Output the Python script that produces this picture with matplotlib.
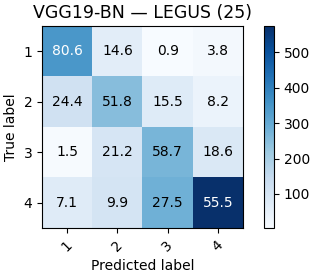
import numpy as np
import matplotlib
matplotlib.use("Agg")
import matplotlib.pyplot as plt

# clases y valores
clases = ['1', '2', '3', '4']
# porcentajes por fila (lo que se escribe en cada celda)
porcentajes = np.array([
    [80.6, 14.6, 0.9, 3.8],
    [24.4, 51.8, 15.5, 8.2],
    [1.5, 21.2, 58.7, 18.6],
    [7.1, 9.9, 27.5, 55.5],
])
# conteos estimados (definen el color)
conteos = np.array([
    [345, 62, 4, 16],
    [117, 249, 74, 39],
    [7, 98, 270, 86],
    [73, 102, 284, 574],
])
titulo = 'VGG19-BN — LEGUS (25)'

fig = plt.figure(figsize=(3.16, 2.77), dpi=100)
ax = fig.add_axes([0.133, 0.177, 0.636, 0.729])
cax = fig.add_axes([0.835, 0.177, 0.032, 0.729])

im = ax.imshow(conteos, interpolation='nearest', cmap=plt.cm.Blues, aspect='auto')
cb = fig.colorbar(im, cax=cax)
cb.set_ticks([100, 200, 300, 400, 500])
cb.ax.tick_params(labelsize=10)

ax.set_xticks(np.arange(len(clases)))
ax.set_yticks(np.arange(len(clases)))
ax.set_xticklabels(clases, rotation=45, fontsize=10)
ax.set_yticklabels(clases, fontsize=10)
ax.set_title(titulo, fontsize=12.5)
ax.set_xlabel('Predicted label', fontsize=10)
ax.set_ylabel('True label', fontsize=10)

# texto de cada celda
umbral = conteos.max() / 2.
for i in range(conteos.shape[0]):
    for j in range(conteos.shape[1]):
        ax.text(j, i, format(porcentajes[i, j], '.1f'),
                ha='center', va='center', fontsize=10,
                color='white' if conteos[i, j] > umbral else 'black')

fig.savefig('out.png', dpi=100)
